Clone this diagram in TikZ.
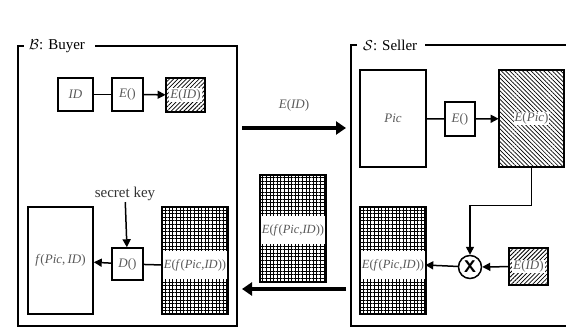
\documentclass[tikz,border=0pt]{standalone}
\usepackage{fontspec}
\setmainfont{Liberation Serif}
\usetikzlibrary{arrows.meta,patterns.meta}
\begin{document}
\begin{tikzpicture}[x=1pt,y=-1pt,
  every node/.style={font=\fontsize{13}{15}\selectfont,text=black!65,inner sep=1pt},
  box/.style={draw,line width=1.5pt,fill=white},
  hatchne/.style={box,pattern={Lines[angle=45,distance=3pt,line width=0.8pt]}},
  hatchnw/.style={box,pattern={Lines[angle=-45,distance=3pt,line width=0.7pt]}},
  gridbox/.style={box,pattern={Hatch[angle=0,distance=3.6pt,line width=1pt]}},
  lbl/.style={fill=white,inner sep=1pt},
  band/.style={lbl,minimum width=63pt,minimum height=28pt,font=\fontsize{12.5}{14}\selectfont},
  conn/.style={line width=1.5pt},
  arr/.style={conn,-{Triangle[length=8pt,width=8pt]}},
  bigarr/.style={line width=4.5pt,-{Triangle[length=10pt,width=13pt]}},
  frame/.style={line width=2.5pt}]
  \useasboundingbox (0,0) rectangle (566,329);
  % Buyer frame
  \draw[frame] (95,46) -- (237,46) -- (237,326) -- (18,326) -- (18,46) -- (24,46);
  \node[anchor=west,text=black,font=\fontsize{15}{17}\selectfont] (btitle) at (28,46) {$\mathcal{B}$: Buyer};
  % Seller frame
  \draw[frame] (425,45) -- (566,45);
  \draw[frame] (357,45) -- (351,45) -- (351,326) -- (566,326);
  \node[anchor=west,text=black,font=\fontsize{15}{17}\selectfont] (stitle) at (362,45) {$\mathcal{S}$: Seller};
  % buyer, top row
  \node[box,minimum width=35pt,minimum height=33pt] (id) at (75.5,94.5) {\textit{ID}};
  \node[box,minimum width=31pt,minimum height=33pt] (encb) at (127.5,94.5) {\textit{E}()};
  \node[hatchne,minimum width=39pt,minimum height=34pt] (eid) at (185.5,95) {};
  \node[lbl] at (eid) {\textit{E}(\textit{ID})};
  \draw[conn] (id) -- (encb);
  \draw[arr] (encb) -- (eid);
  % seller, top row
  \node[box,minimum width=66pt,minimum height=97pt] (pic) at (393,118.5) {\textit{Pic}};
  \node[box,minimum width=30pt,minimum height=34pt] (encs) at (460,119) {\textit{E}()};
  \node[hatchnw,minimum width=65pt,minimum height=97pt] (epic) at (531.5,118.5) {};
  \node[lbl] at (epic) {\textit{E}(\textit{Pic})};
  \draw[conn] (pic) -- (encs);
  \draw[arr] (encs) -- (epic);
  % seller, bottom row
  \node[draw,circle,line width=1.5pt,fill=white,minimum size=23pt,inner sep=0pt,text=black,font=\sffamily\bfseries\fontsize{17}{17}\selectfont] (mul) at (470,267) {X};
  \node[hatchne,minimum width=39pt,minimum height=37pt] (eids) at (528.5,266.5) {};
  \node[lbl] at (eids) {\textit{E}(\textit{ID})};
  \node[gridbox,minimum width=66pt,minimum height=107pt] (sgrid) at (393,260.5) {};
  \node[band] (slbl) at (393,265) {\textit{E}(\textit{f}(\textit{Pic},\textit{ID}))};
  \draw[arr] (epic.south) -- ++(0,38) -| (mul.north);
  \draw[arr] (eids) -- (mul);
  \draw[arr] (mul) -- (slbl.east);
  % sent between the parties
  \coordinate (bR1) at (242,128);
  \coordinate (sL1) at (346,128);
  \coordinate (sL2) at (346,289);
  \coordinate (bR2) at (242,289);
  \draw[bigarr] (bR1) -- (sL1);
  \node (mlbl) at (294,105) {\textit{E}(\textit{ID})};
  \node[gridbox,minimum width=66pt,minimum height=107pt] (mgrid) at (293,228.5) {};
  \node[band] at (293,230) {\textit{E}(\textit{f}(\textit{Pic},\textit{ID}))};
  \draw[bigarr] (sL2) -- (bR2);
  % buyer, bottom row
  \node[box,minimum width=65pt,minimum height=107pt] (fpic) at (60.5,260.5) {\textit{f}(\textit{Pic},\,\textit{ID})};
  \node[box,minimum width=31pt,minimum height=32pt] (dec) at (127.5,264) {\textit{D}()};
  \node[gridbox,minimum width=66pt,minimum height=107pt] (bgrid) at (195,260.5) {};
  \node[band] (blbl) at (195,265) {\textit{E}(\textit{f}(\textit{Pic},\textit{ID}))};
  \node[text=black!80,font=\fontsize{15}{17}\selectfont] (key) at (125,194) {secret key};
  \draw[arr] (key) -- (dec);
  \draw[conn] (blbl.west) -- (dec);
  \draw[arr] (dec) -- (fpic);
\end{tikzpicture}
\end{document}
